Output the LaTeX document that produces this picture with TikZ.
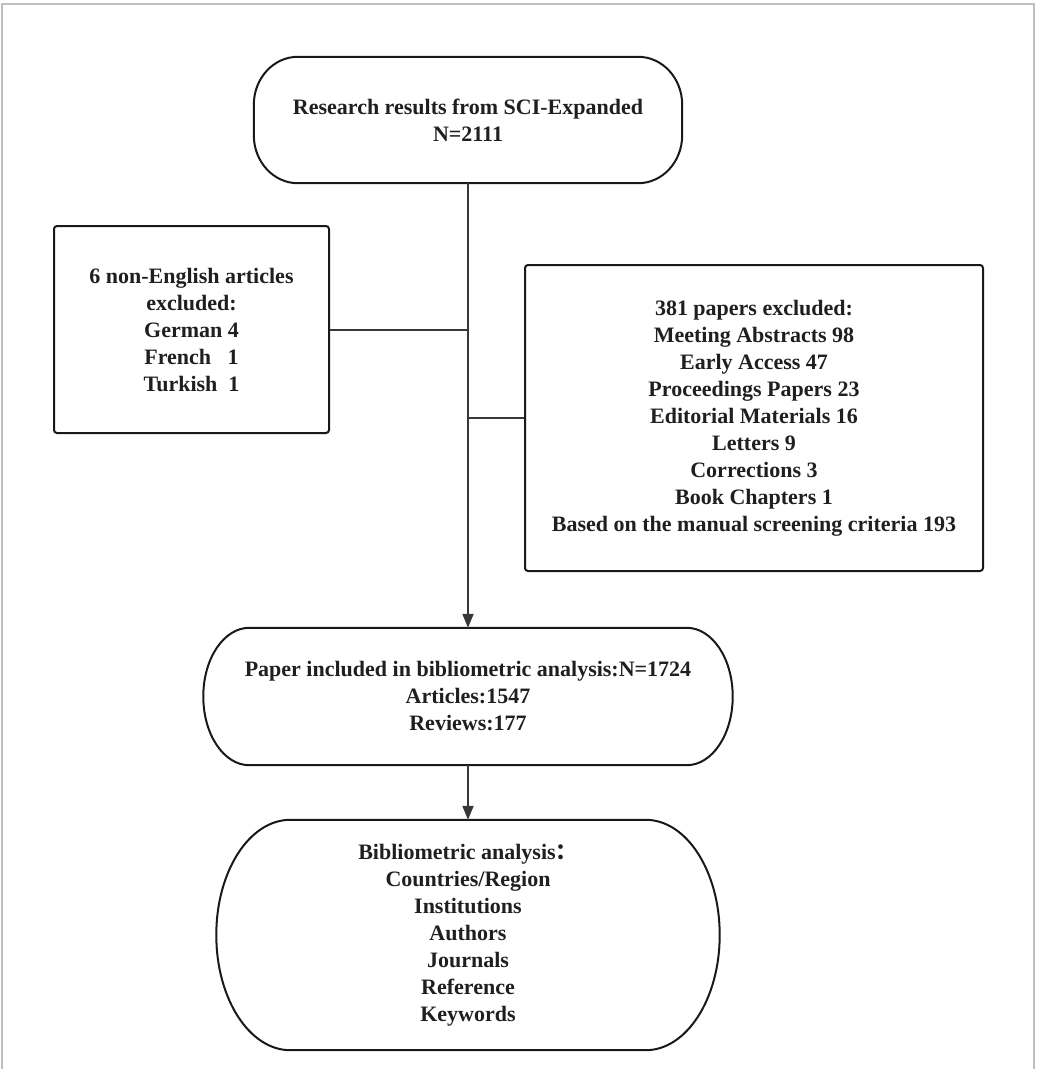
\documentclass[tikz,border=0pt]{standalone}
\usepackage{fontspec}
\setmainfont{Liberation Serif}
\newfontfamily\cjkfont{Noto Sans CJK SC}
\usetikzlibrary{arrows.meta}

% rounded box whose corners are quarter ellipses (rx, ry), drawn around a node
\newcommand\capsuleframe[3]{%
  \draw[boxline] ([xshift=#2]#1.north west) -- ([xshift=-#2]#1.north east)
    arc[start angle=90,end angle=0,x radius=#2,y radius=#3]
    -- ([yshift=#3]#1.south east)
    arc[start angle=0,end angle=-90,x radius=#2,y radius=#3]
    -- ([xshift=#2]#1.south west)
    arc[start angle=270,end angle=180,x radius=#2,y radius=#3]
    -- ([yshift=-#3]#1.north west)
    arc[start angle=180,end angle=90,x radius=#2,y radius=#3] -- cycle;}

\begin{document}
\begin{tikzpicture}[x=1pt,y=-1pt,
  txt/.style={font=\bfseries\fontsize{22}{27}\selectfont, text=black!88,
    align=center, inner sep=0pt},
  sqbox/.style={txt, draw=black!90, line width=2pt, rounded corners=3pt},
  boxline/.style={draw=black!90, line width=2pt},
  link/.style={draw=black!78, line width=2pt},
  flow/.style={link, -{Triangle[length=14pt,width=11pt]}},
  frameline/.style={draw=black!25, line width=2pt}]

\useasboundingbox (0,0) rectangle (1038,1069);

% outer frame, open at the bottom
\draw[frameline] (2,1069) -- (2,4) -- (1034,4) -- (1034,1069);

% nodes
\node[txt, minimum width=428pt, minimum height=126pt] (search) at (468,120)
  {Research results from SCI-Expanded\\N=2111};

\node[sqbox, minimum width=275pt, minimum height=207pt] (lang) at (191.5,329.5)
  {6 non-English articles\\excluded:\\German 4\\French\ \ \ 1\\Turkish\ \ 1};

\node[sqbox, minimum width=458pt, minimum height=306pt] (types) at (754,418)
  {381 papers excluded:\\Meeting Abstracts 98\\Early Access 47\\
   Proceedings Papers 23\\Editorial Materials 16\\Letters 9\\Corrections 3\\
   Book Chapters 1\\Based on the manual screening criteria 193};

\node[txt, minimum width=529pt, minimum height=137pt] (incl) at (468,696.5)
  {Paper included in bibliometric analysis:N=1724\\Articles:1547\\Reviews:177};

\node[txt, minimum width=503pt, minimum height=230pt] (ana) at (468,935)
  {Bibliometric analysis{\cjkfont ：}\\Countries/Region\\Institutions\\Authors\\
   Journals\\Reference\\Keywords};

% rounded outlines
\capsuleframe{search}{44pt}{48pt}
\capsuleframe{incl}{46pt}{68.5pt}
\capsuleframe{ana}{74pt}{115pt}

% connectors
\draw[flow] (search.south) -- (incl.north);
\draw[link] (lang.east) -- (lang.east -| search.south);
\draw[link] (types.west) -- (types.west -| search.south);
\draw[flow] (incl.south) -- (ana.north);

\end{tikzpicture}
\end{document}
